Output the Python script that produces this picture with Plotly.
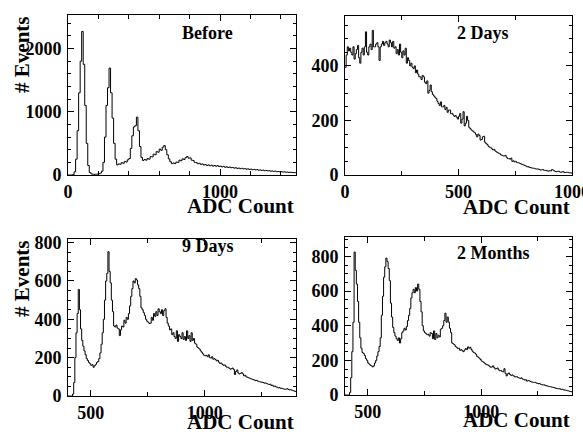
import plotly.graph_objects as go

# ---------------- data (bin contents) ----------------
BEFORE_START, BEFORE_WIDTH = 0, 10
BEFORE = [0, 0, 0, 5, 50, 250, 700, 1300, 1800, 2270,
          1750, 1100, 500, 150, 40, 18, 12, 10, 12, 15,
          20, 30, 60, 200, 600, 1100, 1380, 1690, 1300, 900,
          500, 250, 160, 175, 170, 195, 185, 215, 205, 240,
          260, 420, 620, 760, 780, 915, 700, 450, 280, 230,
          245, 235, 260, 250, 290, 285, 330, 320, 370, 360,
          410, 390, 440, 465, 400, 320, 255, 210, 180, 190,
          182, 205, 200, 235, 225, 255, 245, 275, 292, 265,
          270, 235, 228, 200, 196, 178, 186, 168, 175, 158,
          165, 150, 160, 146, 155, 140, 150, 138, 147, 135,
          140, 128, 136, 122, 130, 118, 126, 115, 120, 108,
          115, 104, 110, 100, 106, 96, 101, 92, 97, 88,
          93, 84, 88, 81, 85, 76, 80, 73, 77, 68,
          72, 65, 68, 60, 64, 57, 61, 53, 56, 50,
          53, 46, 50, 44, 47, 41, 44, 38, 40, 36]

DAYS2_START, DAYS2_WIDTH = 0, 5
DAYS2 = [395, 440, 470, 455, 465, 450, 440, 470, 425, 445,
         460, 475, 430, 410, 450, 465, 440, 470, 525, 450,
         440, 470, 480, 460, 530, 470, 470, 480, 485, 470,
         420, 470, 480, 490, 475, 485, 490, 480, 470, 495,
         485, 470, 490, 465, 470, 445, 460, 440, 480, 450,
         430, 455, 440, 465, 410, 430, 420, 400, 410, 395,
         390, 400, 375, 385, 370, 360, 360, 350, 365, 360,
         340, 335, 345, 300, 310, 330, 305, 295, 290, 285,
         280, 270, 262, 255, 268, 250, 250, 255, 240, 248,
         230, 238, 238, 225, 226, 220, 215, 218, 212, 205,
         215, 225, 190, 205, 232, 180, 190, 215, 200, 175,
         170, 165, 162, 158, 155, 148, 140, 150, 145, 128,
         130, 140, 142, 120, 115, 112, 105, 102, 100, 96,
         92, 94, 88, 85, 82, 80, 78, 74, 72, 70,
         70, 72, 65, 60, 60, 58, 62, 50, 52, 48,
         50, 46, 45, 44, 42, 40, 38, 37, 35, 33,
         30, 31, 28, 27, 26, 25, 25, 23, 22, 22,
         22, 20, 18, 19, 20, 17, 17, 16, 15, 14,
         16, 15, 20, 18, 15, 13, 12, 13, 14, 11,
         10, 12, 12, 9, 9, 10, 10, 8, 8, 7]

DAYS9_START, DAYS9_WIDTH = 400, 5
DAYS9 = [0, 0, 0, 0, 10, 70, 200, 330, 430, 556,
         450, 350, 290, 260, 235, 215, 195, 185, 175, 168,
         160, 163, 150, 158, 165, 175, 180, 195, 225, 270,
         330, 400, 500, 600, 640, 753, 650, 590, 500, 440,
         365, 360, 370, 355, 350, 315, 345, 365, 360, 395,
         380, 410, 400, 430, 470, 520, 560, 600, 590, 612,
         605, 580, 560, 520, 460, 450, 435, 420, 400, 390,
         385, 378, 380, 410, 395, 430, 415, 440, 420, 455,
         440, 430, 450, 420, 445, 455, 410, 380, 365, 345,
         350, 320, 330, 310, 300, 340, 285, 320, 310, 300,
         330, 295, 310, 290, 340, 300, 315, 285, 330, 290,
         300, 275, 270, 255, 250, 245, 235, 228, 220, 212,
         210, 212, 205, 215, 200, 198, 205, 192, 195, 190,
         183, 186, 176, 170, 172, 165, 160, 162, 155, 150,
         150, 145, 140, 142, 146, 138, 112, 128, 136, 120,
         115, 118, 122, 116, 105, 108, 100, 98, 95, 93,
         90, 88, 85, 84, 80, 82, 78, 75, 74, 72,
         72, 70, 67, 68, 65, 62, 60, 62, 55, 56,
         50, 52, 48, 46, 42, 44, 40, 41, 38, 36,
         35, 36, 38, 34, 32, 33, 30, 28, 26, 24]

MONTHS2_START, MONTHS2_WIDTH = 400, 5
MONTHS2 = [0, 0, 0, 0, 15, 100, 250, 420, 825, 720,
           640, 540, 420, 330, 270, 245, 240, 228, 210, 200,
           185, 178, 172, 168, 162, 168, 185, 200, 225, 250,
           280, 330, 460, 570, 680, 740, 790, 770, 730, 660,
           530, 450, 390, 360, 340, 325, 315, 330, 300, 325,
           360, 370, 385, 375, 395, 430, 460, 500, 560, 590,
           610, 590, 620, 600, 640, 610, 540, 480, 400, 370,
           360, 355, 348, 350, 340, 360, 355, 325, 370, 320,
           355, 330, 345, 335, 380, 385, 400, 430, 472, 420,
           450, 420, 385, 360, 300, 295, 290, 280, 275, 268,
           270, 258, 262, 255, 250, 260, 268, 262, 278, 270,
           275, 262, 252, 245, 242, 235, 222, 218, 212, 205,
           196, 192, 188, 182, 176, 174, 172, 165, 160, 162,
           168, 158, 150, 152, 156, 145, 140, 142, 136, 134,
           152, 125, 110, 122, 127, 118, 113, 116, 111, 106,
           104, 106, 101, 98, 96, 99, 93, 90, 86, 88,
           80, 83, 82, 78, 75, 74, 72, 73, 70, 67,
           65, 66, 62, 60, 58, 59, 55, 53, 52, 50,
           48, 47, 45, 44, 42, 40, 38, 37, 35, 36,
           32, 33, 30, 29, 28, 26, 24, 23, 20, 19]

PANEL_TITLES = ["Before", "2 Days", "9 Days", "2 Months"]
X_TITLE = "ADC Count"
Y_TITLE = "# Events"

# ---------------- figure ----------------
FONT = "Liberation Serif, Times New Roman, serif"


def step_xy(start, width, counts):
    xs = [start + i * width for i in range(len(counts) + 1)]
    ys = list(counts) + [counts[-1]]
    return xs, ys


panels = [
    (BEFORE_START, BEFORE_WIDTH, BEFORE),
    (DAYS2_START, DAYS2_WIDTH, DAYS2),
    (DAYS9_START, DAYS9_WIDTH, DAYS9),
    (MONTHS2_START, MONTHS2_WIDTH, MONTHS2),
]

fig = go.Figure()
for i, (s, w, c) in enumerate(panels):
    xs, ys = step_xy(s, w, c)
    sfx = "" if i == 0 else str(i + 1)
    fig.add_trace(go.Scatter(x=xs, y=ys, mode="lines",
                             line=dict(color="black", width=1, shape="hv"),
                             xaxis="x" + sfx, yaxis="y" + sfx,
                             showlegend=False, hoverinfo="skip"))

W, H = 583, 439
xdom_l = [68 / W, 296 / W]
xdom_r = [345 / W, 572 / W]
ydoms = [
    [(H - 175) / H, (H - 15) / H],
    [(H - 175) / H, (H - 16) / H],
    [(H - 396) / H, (H - 239) / H],
    [(H - 395) / H, (H - 237) / H],
]
xranges = [[0, 1500], [0, 1000], [400, 1400], [400, 1400]]
yranges = [[0, 2530], [0, 583], [0, 819], [0, 912]]
xmaj = [1000, 500, 500, 500]
xmin = [200, 250, 250, 250]
ymaj = [1000, 200, 200, 200]
ymin = [200, 50, 50, 50]

tickfont = dict(family=FONT, size=18, color="black", weight="bold")

layout = dict(width=W, height=H,
              margin=dict(l=0, r=0, t=0, b=0, pad=0, autoexpand=False),
              paper_bgcolor="white", plot_bgcolor="white", showlegend=False)

for i in range(4):
    sfx = "" if i == 0 else str(i + 1)
    xd = xdom_l if i in (0, 2) else xdom_r
    layout["xaxis" + sfx] = dict(
        domain=xd, range=xranges[i], anchor="y" + sfx, automargin=False,
        showgrid=False, zeroline=False, showline=True, linecolor="black",
        linewidth=1, mirror="ticks", ticks="inside", ticklen=6, tickwidth=1,
        tickcolor="black", tick0=0, dtick=xmaj[i], tickfont=tickfont,
        minor=dict(ticks="inside", ticklen=4, dtick=xmin[i], tick0=0,
                   tickcolor="black", showgrid=False),
        ticklabeloverflow="allow",
        ticklabelstandoff=0, fixedrange=True)
    layout["yaxis" + sfx] = dict(
        domain=ydoms[i], range=yranges[i], anchor="x" + sfx, automargin=False,
        showgrid=False, zeroline=False, showline=True, linecolor="black",
        linewidth=1, mirror="ticks", ticks="inside", ticklen=6, tickwidth=1,
        tickcolor="black", tick0=0, dtick=ymaj[i], tickfont=tickfont,
        minor=dict(ticks="inside", ticklen=3, dtick=ymin[i], tick0=0,
                   tickcolor="black", showgrid=False),
        ticklabelstandoff=2, fixedrange=True)

fig.update_layout(**layout)

title_pos = [(0.61, 0.8875), (0.608, 0.893), (0.614, 0.955), (0.652, 0.897)]
xt_y = [-0.195, -0.200, -0.166, -0.158]
ann = []
for i in range(4):
    sfx = "" if i == 0 else str(i + 1)
    xr = "x" + sfx + " domain"
    yr = "y" + sfx + " domain"
    ann.append(dict(text=PANEL_TITLES[i], xref=xr, yref=yr,
                    x=title_pos[i][0], y=title_pos[i][1],
                    xanchor="center", yanchor="middle", showarrow=False,
                    font=dict(family=FONT, size=18, color="black", weight="bold")))
    ann.append(dict(text=X_TITLE, xref=xr, yref=yr, x=1.0, y=xt_y[i],
                    xanchor="right", yanchor="middle", showarrow=False,
                    font=dict(family=FONT, size=21, color="black", weight="bold")))
    if i in (0, 2):
        ann.append(dict(text=Y_TITLE, xref=xr, yref=yr, x=-0.202, y=1.0,
                        xanchor="center", yanchor="top", textangle=-90,
                        showarrow=False,
                        font=dict(family=FONT, size=21, color="black", weight="bold")))
fig.update_layout(annotations=ann)

fig.write_html("out.html", config={"displayModeBar": False},
               post_script="document.body.style.margin='0';"
                           "document.body.style.overflow='hidden';")
